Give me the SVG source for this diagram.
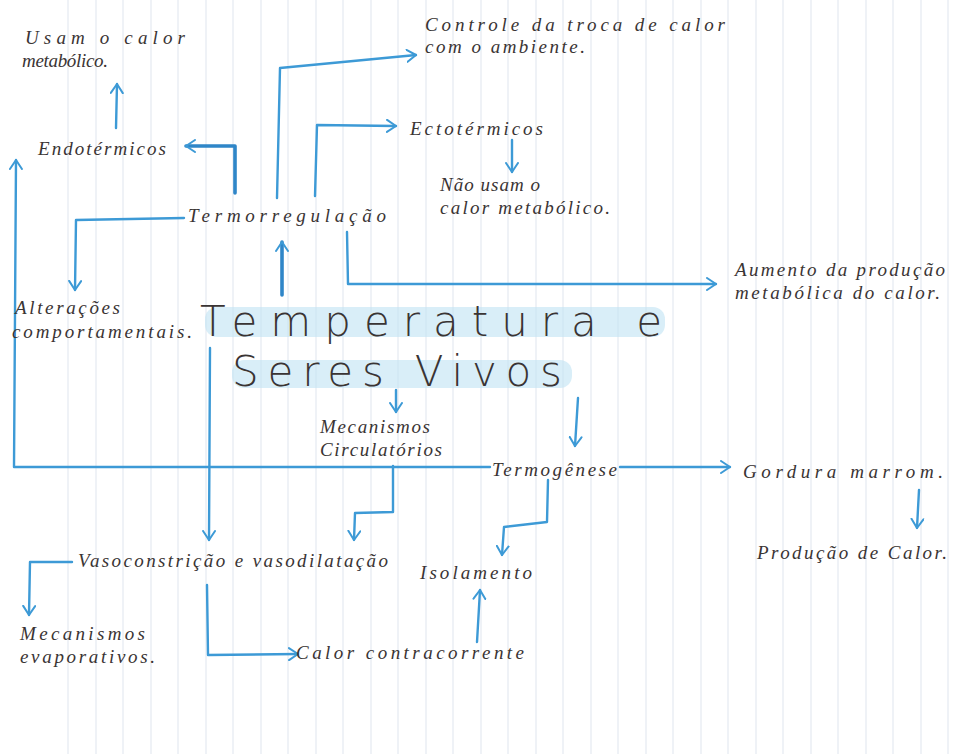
<svg xmlns="http://www.w3.org/2000/svg" width="963" height="754" viewBox="0 0 963 754">
<style>
.t{font-family:"Liberation Serif",serif;font-style:italic;fill:#3a3434;font-size:19px}
.title{font-family:"DejaVu Sans","Liberation Sans",sans-serif;font-weight:200;fill:#3a3434;font-size:42px}
.c{fill:none;stroke:#3d9ad6;stroke-width:2.4;stroke-linejoin:round;stroke-linecap:round}
.thick{stroke-width:3.6;stroke:#2f86c8}
.paper{stroke:#dfe5ee;stroke-width:1}
.hl{fill:#bfe2f4;opacity:0.6}
</style>
<defs>
<marker id="ah" viewBox="0 0 12 14" refX="10" refY="7" markerWidth="12" markerHeight="14" markerUnits="userSpaceOnUse" orient="auto">
<path d="M1,1 L10,7 L1,13" fill="none" stroke="#3d9ad6" stroke-width="2" stroke-linecap="round" stroke-linejoin="round"/>
</marker>
</defs>
<rect width="963" height="754" fill="#ffffff"/>
<g id="paper">
<path class="paper" d="M68,0V754M96,0V754M123,0V754M151,0V754M178,0V754M206,0V754M233,0V754M261,0V754M288,0V754M316,0V754M343,0V754M371,0V754M398,0V754M426,0V754M453,0V754M481,0V754M508,0V754M536,0V754M563,0V754M591,0V754M618,0V754M646,0V754M673,0V754M701,0V754M728,0V754M756,0V754M783,0V754M811,0V754M838,0V754M866,0V754M893,0V754M921,0V754M948,0V754"/>
</g>
<g id="connectors">
<path class="c" d="M116,128 L117,84" marker-end="url(#ah)"/>
<path class="c thick" d="M235,193 L235,146 L186,146" marker-end="url(#ah)"/>
<path class="c" d="M277,198 L280,68 L416,55" marker-end="url(#ah)"/>
<path class="c" d="M315,196 L317,125 L396,126" marker-end="url(#ah)"/>
<path class="c" d="M512,140 L512,172" marker-end="url(#ah)"/>
<path class="c" d="M184,218 L76,220 L75,290" marker-end="url(#ah)"/>
<path class="c thick" d="M282,295 L282,242" marker-end="url(#ah)"/>
<path class="c" d="M347,232 L348,284 L716,284" marker-end="url(#ah)"/>
<path class="c" d="M396,390 L396,412" marker-end="url(#ah)"/>
<path class="c" d="M578,398 L575,446" marker-end="url(#ah)"/>
<path class="c" d="M490,467 L14,467 L16,160" marker-end="url(#ah)"/>
<path class="c" d="M210,348 L209,540" marker-end="url(#ah)"/>
<path class="c" d="M393,466 L393,512 L355,513 L354,540" marker-end="url(#ah)"/>
<path class="c" d="M548,480 L547,522 L504,527 L502,555" marker-end="url(#ah)"/>
<path class="c" d="M620,467 L730,467" marker-end="url(#ah)"/>
<path class="c" d="M919,490 L917,528" marker-end="url(#ah)"/>
<path class="c" d="M72,562 L30,562 L29,615" marker-end="url(#ah)"/>
<path class="c" d="M207,585 L208,655 L298,654" marker-end="url(#ah)"/>
<path class="c" d="M477,642 L480,590" marker-end="url(#ah)"/>
</g>
<g id="title">
<rect class="hl" x="205" y="307" width="460" height="30" rx="12"/>
<rect class="hl" x="232" y="360" width="340" height="28" rx="12"/>
<text class="title" x="200" y="336" textLength="462" lengthAdjust="spacing">Temperatura e</text>
<text class="title" x="232" y="386" textLength="330" lengthAdjust="spacing">Seres Vivos</text>
</g>
<g id="usam"><text class="t" x="25" y="44" textLength="160">Usam o calor</text><text class="t" x="22" y="67" textLength="86">metabólico.</text></g>
<g id="endotermicos"><text class="t" x="38" y="155" textLength="128">Endotérmicos</text></g>
<g id="termorregulacao"><text class="t" x="188" y="222" textLength="198">Termorregulação</text></g>
<g id="controle"><text class="t" x="425" y="31" textLength="300">Controle da troca de calor</text><text class="t" x="425" y="53" textLength="160">com o ambiente.</text></g>
<g id="ectotermicos"><text class="t" x="410" y="135" textLength="133">Ectotérmicos</text></g>
<g id="naousam"><text class="t" x="440" y="191" textLength="100">Não usam o</text><text class="t" x="440" y="214" textLength="170">calor metabólico.</text></g>
<g id="alteracoes"><text class="t" x="15" y="314" textLength="105">Alterações</text><text class="t" x="12" y="338" textLength="180">comportamentais.</text></g>
<g id="aumento"><text class="t" x="735" y="276" textLength="210">Aumento da produção</text><text class="t" x="735" y="299" textLength="205">metabólica do calor.</text></g>
<g id="circulatorios"><text class="t" x="320" y="433" textLength="110">Mecanismos</text><text class="t" x="320" y="456" textLength="122">Circulatórios</text></g>
<g id="termogenese"><text class="t" x="492" y="476" textLength="125">Termogênese</text></g>
<g id="gordura"><text class="t" x="743" y="478" textLength="200">Gordura marrom.</text></g>
<g id="producao"><text class="t" x="757" y="559" textLength="190">Produção de Calor.</text></g>
<g id="vaso"><text class="t" x="78" y="567" textLength="310">Vasoconstrição e vasodilatação</text></g>
<g id="isolamento"><text class="t" x="420" y="579" textLength="112">Isolamento</text></g>
<g id="evaporativos"><text class="t" x="20" y="640" textLength="125">Mecanismos</text><text class="t" x="20" y="663" textLength="135">evaporativos.</text></g>
<g id="contracorrente"><text class="t" x="296" y="659" textLength="228">Calor contracorrente</text></g>
</svg>
